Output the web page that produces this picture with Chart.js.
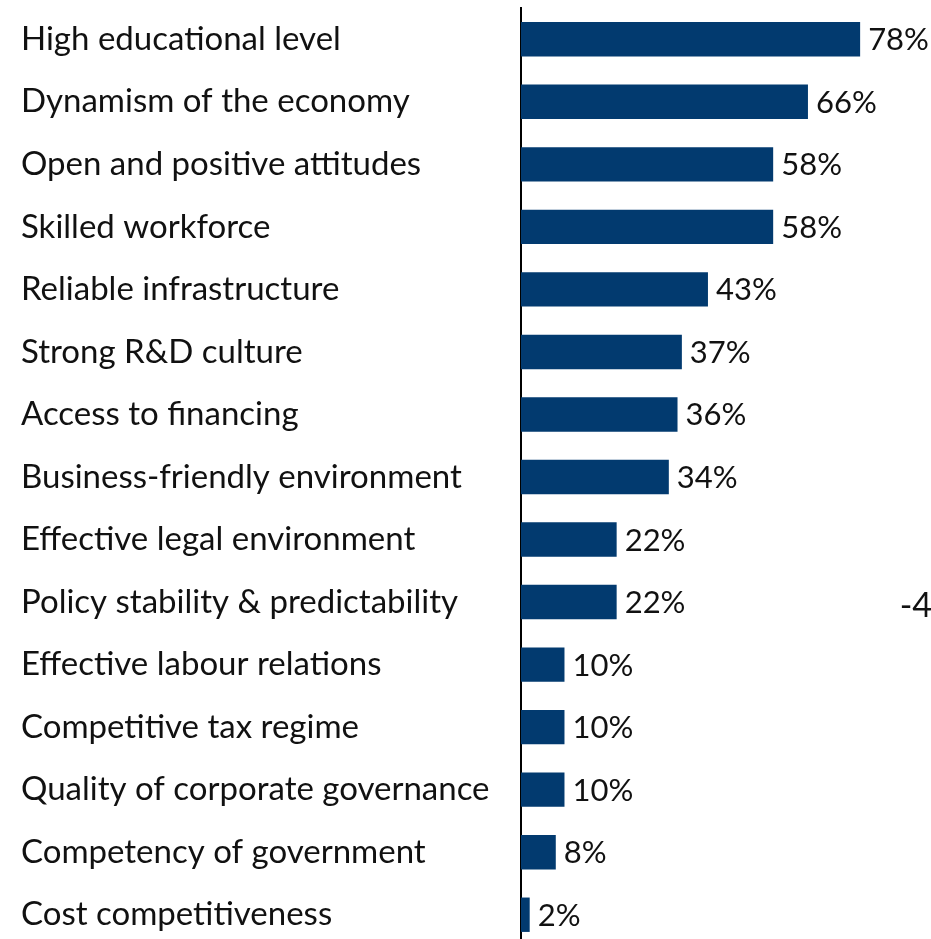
<!DOCTYPE html>
<html>
<head>
<meta charset="utf-8">
<script src="https://cdn.jsdelivr.net/npm/chart.js@4/dist/chart.umd.min.js"></script>
<style>
html,body{margin:0;padding:0;background:#fff;overflow:hidden;}
canvas{display:block;}
</style>
</head>
<body>
<canvas id="c" width="931" height="946"></canvas>
<script>
const categories = [
  "High educational level",
  "Dynamism of the economy",
  "Open and positive attitudes",
  "Skilled workforce",
  "Reliable infrastructure",
  "Strong R&D culture",
  "Access to financing",
  "Business-friendly environment",
  "Effective legal environment",
  "Policy stability & predictability",
  "Effective labour relations",
  "Competitive tax regime",
  "Quality of corporate governance",
  "Competency of government",
  "Cost competitiveness"
];
const values = [78, 66, 58, 58, 43, 37, 36, 34, 22, 22, 10, 10, 10, 8, 2];
const valueLabels = ["78%","66%","58%","58%","43%","37%","36%","34%","22%","22%","10%","10%","10%","8%","2%"];
const strayLabel = "-4";

const FONT = "Lato, 'Open Sans', sans-serif";

const valuePlugin = {
  id: 'valueLabels',
  afterDatasetsDraw(chart) {
    const ctx = chart.ctx;
    const meta = chart.getDatasetMeta(0);
    ctx.save();
    ctx.font = "31px " + FONT;
    ctx.fillStyle = "#111";
    ctx.textAlign = "left";
    ctx.textBaseline = "middle";
    meta.data.forEach((bar, i) => {
      ctx.fillText(valueLabels[i], bar.x + 8, bar.y + 1);
    });
    const row = meta.data[9];
    ctx.font = "34px " + FONT;
    ctx.textAlign = "right";
    ctx.fillText(strayLabel, chart.width + 1, row.y + 4);
    ctx.restore();
  }
};

new Chart(document.getElementById('c'), {
  type: 'bar',
  data: {
    labels: categories,
    datasets: [{
      data: values,
      backgroundColor: '#023a6f',
      borderWidth: 0,
      categoryPercentage: 1.0,
      barPercentage: 0.55
    }]
  },
  options: {
    indexAxis: 'y',
    responsive: false,
    animation: false,
    layout: { padding: { left: 21, top: 8, right: 0, bottom: 0 } },
    plugins: { legend: { display: false }, tooltip: { enabled: false } },
    scales: {
      x: {
        display: false,
        min: 0,
        max: 94.3
      },
      y: {
        afterFit(scale) { scale.width = 500; scale.paddingTop = 0; scale.paddingBottom = 0; },
        grid: { display: false, drawTicks: false },
        border: { display: true, color: '#000', width: 2 },
        ticks: {
          crossAlign: 'far',
          color: '#111',
          padding: 0,
          autoSkip: false,
          font: { family: FONT, size: 33 }
        }
      }
    }
  },
  plugins: [valuePlugin]
});
</script>
</body>
</html>
